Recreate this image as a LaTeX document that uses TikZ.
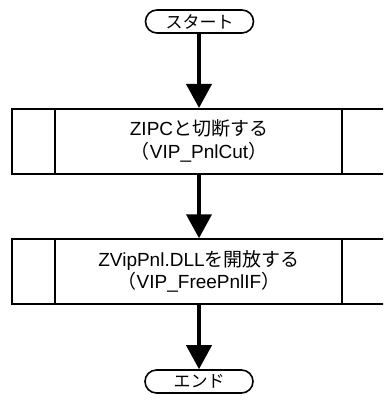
\documentclass[tikz,border=0pt]{standalone}
\usepackage{fontspec}
\setmainfont{Liberation Sans}
\newfontfamily\cjk{Noto Sans CJK JP}
\usetikzlibrary{arrows.meta}
\tikzset{
  term/.style={draw, line width=1.6pt, rounded corners=11.5pt, minimum width=108pt, minimum height=23pt, inner sep=0pt, font=\cjk\fontsize{17}{20}\selectfont},
  procbox/.style={draw, line width=2pt, minimum width=374pt, minimum height=64.5pt, inner sep=0pt, align=center, font=\fontsize{19}{22.7}\selectfont},
  divider/.style={line width=2pt},
  flow/.style={line width=4pt, -{Triangle[width=25pt,length=24pt]}, shorten >=0pt}
}
\begin{document}
\begin{tikzpicture}[x=1pt,y=-1pt]
\useasboundingbox (0,0) rectangle (383,401);
\fill[white] (0,0) rectangle (383,401);
\clip (0,0) rectangle (383,401);
\node[term] (start) at (199.5,21.5) {スタート};
\node[procbox] (box1) at (199,141.25) {ZIPC{\cjk と切断する}\\{\cjk （}VIP\_PnlCut{\cjk ）}};
\node[procbox] (box2) at (199,271.5) {ZVipPnl.DLL{\cjk を開放する}\\{\cjk （}VIP\_FreePnlIF{\cjk ）}};
\node[term] (end) at (199,381.5) {エンド};
\draw[divider] (box1.north west) ++(44,0) coordinate (b1a) -- (b1a |- box1.south);
\draw[divider] (box1.north east) ++(-45,0) coordinate (b1b) -- (b1b |- box1.south);
\draw[divider] (box2.north west) ++(44,0) coordinate (b2a) -- (b2a |- box2.south);
\draw[divider] (box2.north east) ++(-45,0) coordinate (b2b) -- (b2b |- box2.south);
\draw[flow] (start.south -| box1.north) -- (box1.north);
\draw[flow] (box1) -- (box2);
\draw[flow] (box2.south) -- (end.north -| box2.south);
\end{tikzpicture}
\end{document}
